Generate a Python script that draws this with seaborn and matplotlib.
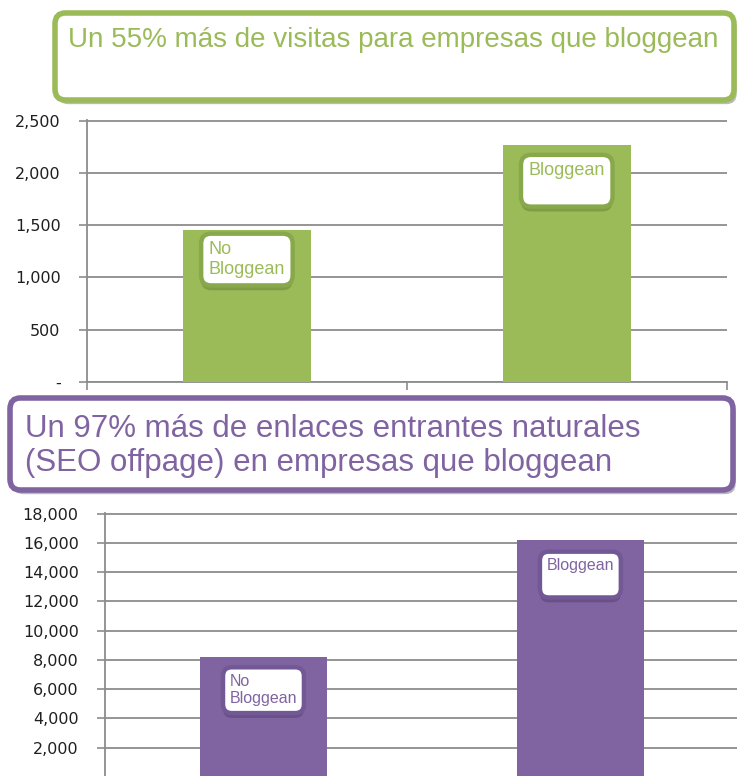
import matplotlib
matplotlib.use("Agg")
import matplotlib.pyplot as plt
import matplotlib.patheffects as pe
from matplotlib.patches import FancyBboxPatch
import seaborn as sns

# Data
categories = ["No Bloggean", "Bloggean"]
visits = [1450, 2270]
links = [8200, 16200]

visits_ticks = [0, 500, 1000, 1500, 2000, 2500]
visits_tick_labels = ["-", "500", "1,000", "1,500", "2,000", "2,500"]
links_ticks = [2000, 4000, 6000, 8000, 10000, 12000, 14000, 16000, 18000]
links_tick_labels = ["2,000", "4,000", "6,000", "8,000", "10,000",
                     "12,000", "14,000", "16,000", "18,000"]

bar_labels = ["No\nBloggean", "Bloggean\n"]
title_visits = "Un 55% más de visitas para empresas que bloggean"
title_links = "Un 97% más de enlaces entrantes naturales\n(SEO offpage) en empresas que bloggean"

green = "#9BBB59"
green_rim = "#89A84C"
green_dark = "#6E8A3A"
purple = "#8064A2"
purple_rim = "#725894"
purple_dark = "#5A4478"
grid_color = "#8c8c8c"

sns.set_style("white")
plt.rcParams['font.family'] = ['Liberation Sans', 'DejaVu Sans']

fig = plt.figure(figsize=(7.37, 7.76), dpi=100)
ax1 = fig.add_axes([0.118, 0.5077, 0.868, 0.3376])
ax2 = fig.add_axes([0.1425, -0.001, 0.860, 0.340])


def style_axis(ax, values, color, rim, dark, ticks, tick_labels, ymax, label_offsets, label_size):
    sns.barplot(x=categories, y=values, color=color, width=0.4,
                saturation=1, linewidth=0, edgecolor='none', ax=ax, zorder=3)
    ax.set_xlim(-0.5, len(categories) - 0.5)
    ax.set_ylim(0, ymax)
    ax.set_yticks(ticks)
    ax.set_yticklabels(tick_labels, family='DejaVu Sans', fontsize=11.5, color='#1f1f1f')
    ax.set_xticks([-0.5, 0.5, 1.5])
    ax.set_xticklabels([])
    ax.set_xlabel("")
    ax.set_ylabel("")
    ax.tick_params(axis='y', length=6, width=1.2, color=grid_color, pad=13, left=True)
    ax.tick_params(axis='x', length=6, width=1.2, color=grid_color, bottom=True)
    ax.grid(axis='y', color=grid_color, lw=1.3, zorder=0)
    ax.set_axisbelow(True)
    for s in ['top', 'right']:
        ax.spines[s].set_visible(False)
    for s in ['left', 'bottom']:
        ax.spines[s].set_color(grid_color)
        ax.spines[s].set_linewidth(1.3)

    for i, (lab, val) in enumerate(zip(bar_labels, values)):
        t = ax.annotate(lab, xy=(i, val), xytext=(0, -label_offsets[i]),
                        textcoords='offset points', ha='center', va='center',
                        multialignment='left', fontsize=label_size, color=color,
                        linespacing=1.2, zorder=5,
                        bbox=dict(boxstyle="round,pad=0.42,rounding_size=0.55",
                                  fc='white', ec=rim, lw=3.2))
        t.get_bbox_patch().set_path_effects([
            pe.SimplePatchShadow(offset=(0, -3.5), shadow_rgbFace=dark, alpha=0.6),
            pe.Normal()])


style_axis(ax1, visits, green, green_rim, green_dark, visits_ticks, visits_tick_labels,
           2505, [21, 26], 13)
style_axis(ax2, links, purple, purple_rim, purple_dark, links_ticks, links_tick_labels,
           18040, [24, 25], 11.5)


def title_box(x0, y0, w, h, color, text, tx, ty, size, spacing):
    box = FancyBboxPatch((x0, y0), w, h, transform=fig.transFigure,
                         boxstyle="round,pad=0,rounding_size=0.014",
                         fc='white', ec=color, lw=4, zorder=10)
    box.set_path_effects([pe.SimplePatchShadow(offset=(2, -3), shadow_rgbFace='#777777', alpha=0.5),
                          pe.Normal()])
    fig.patches.append(box)
    fig.text(tx, ty, text, color=color, fontsize=size, ha='left', va='top',
             linespacing=spacing, zorder=11)


title_box(55 / 737, 1 - 100 / 776, 679 / 737, 87 / 776, green, title_visits,
          68 / 737, 1 - 27 / 776, 20, 1.1)
title_box(10 / 737, 1 - 490 / 776, 723 / 737, 92 / 776, purple, title_links,
          25 / 737, 1 - 414 / 776, 22.5, 1.16)

fig.savefig("out.png", dpi=100)
